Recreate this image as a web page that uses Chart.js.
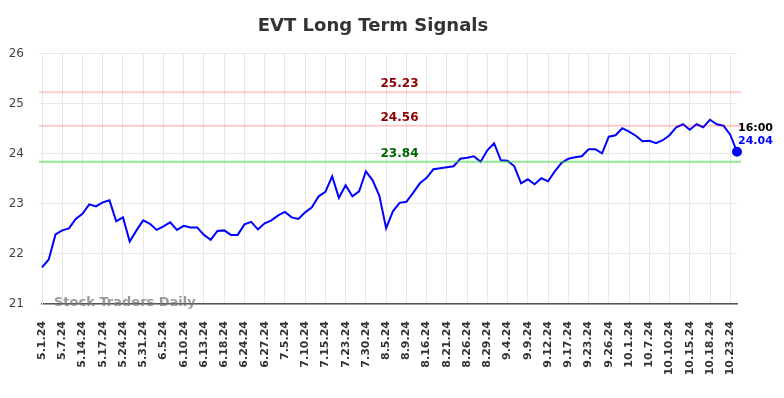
<!DOCTYPE html>
<html>
<head>
<meta charset="utf-8">
<script src="https://cdn.jsdelivr.net/npm/chart.js@4"></script>
<style>
    html, body { margin: 0; padding: 0; background: #fff; }
    #wrap { width: 784px; height: 398px; }
</style>
</head>
<body>
<div id="wrap"><canvas id="signals-chart-canvas"></canvas></div>
<script>
const dates = [
    '5.1.24', '5.2.24', '5.3.24', '5.7.24', '5.8.24', '5.10.24', '5.14.24', '5.15.24',
    '5.16.24', '5.17.24', '5.20.24', '5.22.24', '5.24.24', '5.28.24', '5.29.24', '5.31.24',
    '6.3.24', '6.4.24', '6.5.24', '6.6.24', '6.7.24', '6.10.24', '6.11.24', '6.12.24',
    '6.13.24', '6.14.24', '6.17.24', '6.18.24', '6.20.24', '6.21.24', '6.24.24', '6.25.24',
    '6.26.24', '6.27.24', '7.1.24', '7.3.24', '7.5.24', '7.8.24', '7.9.24', '7.10.24',
    '7.11.24', '7.12.24', '7.15.24', '7.17.24', '7.19.24', '7.23.24', '7.25.24', '7.26.24',
    '7.30.24', '8.1.24', '8.2.24', '8.5.24', '8.6.24', '8.7.24', '8.9.24', '8.13.24',
    '8.14.24', '8.16.24', '8.19.24', '8.20.24', '8.21.24', '8.22.24', '8.23.24', '8.26.24',
    '8.27.24', '8.28.24', '8.29.24', '8.30.24', '9.3.24', '9.4.24', '9.5.24', '9.6.24',
    '9.9.24', '9.10.24', '9.11.24', '9.12.24', '9.13.24', '9.16.24', '9.17.24', '9.19.24',
    '9.20.24', '9.23.24', '9.24.24', '9.25.24', '9.26.24', '9.27.24', '9.30.24', '10.1.24',
    '10.3.24', '10.4.24', '10.7.24', '10.8.24', '10.9.24', '10.10.24', '10.11.24', '10.14.24',
    '10.15.24', '10.16.24', '10.17.24', '10.18.24', '10.21.24', '10.22.24', '10.23.24', '10.24.24',
];

const prices = [
    21.73, 21.89, 22.39, 22.47, 22.51, 22.70, 22.80, 22.99,
    22.95, 23.03, 23.07, 22.65, 22.73, 22.25, 22.47, 22.67,
    22.60, 22.48, 22.55, 22.63, 22.48, 22.56, 22.53, 22.53,
    22.38, 22.28, 22.46, 22.47, 22.38, 22.38, 22.59, 22.64,
    22.49, 22.61, 22.67, 22.77, 22.84, 22.73, 22.70, 22.83,
    22.93, 23.15, 23.24, 23.55, 23.12, 23.37, 23.15, 23.25,
    23.65, 23.47, 23.16, 22.51, 22.85, 23.02, 23.04, 23.22,
    23.41, 23.52, 23.69, 23.71, 23.73, 23.75, 23.90, 23.92,
    23.95, 23.84, 24.07, 24.21, 23.87, 23.86, 23.75, 23.41,
    23.49, 23.39, 23.51, 23.45, 23.65, 23.82, 23.90, 23.93,
    23.95, 24.09, 24.09, 24.01, 24.34, 24.37, 24.51, 24.44,
    24.36, 24.25, 24.26, 24.21, 24.27, 24.37, 24.53, 24.59,
    24.48, 24.59, 24.53, 24.68, 24.59, 24.56, 24.38, 24.04,
];

const signalLevels = [25.23, 24.56, 23.84];
const signalKinds = ['sell', 'sell', 'buy'];
const lastTime = '16:00';

Chart.defaults.font.family = "'DejaVu Sans', sans-serif";

const signalColors = {
    sell: {line: 'rgba(255, 0, 0, 0.2)', text: '#8b0000'},
    buy: {line: 'rgba(60, 210, 60, 0.55)', text: '#006400'},
};

// threshold lines, their labels, the watermark and the last price note
const signalLines = {
    id: 'signalLines',
    afterDatasetsDraw: function(chart) {
        'use strict';
        const ctx = chart.ctx;
        const area = chart.chartArea;
        const y = chart.scales.y;
        ctx.save();
        signalLevels.forEach(function(level, i) {
            const c = signalColors[signalKinds[i]];
            const py = y.getPixelForValue(level);
            ctx.strokeStyle = c.line;
            ctx.lineWidth = 2;
            ctx.beginPath();
            ctx.moveTo(area.left - 3, py);
            ctx.lineTo(area.right + 4, py);
            ctx.stroke();
            ctx.fillStyle = c.text;
            ctx.font = "bold 12px 'DejaVu Sans'";
            ctx.textAlign = 'center';
            ctx.textBaseline = 'middle';
            ctx.fillText(level.toFixed(2), (area.left + area.right) / 2 + 10, py - 8);
        });

        ctx.fillStyle = 'rgba(120, 120, 120, 0.75)';
        ctx.font = "bold 13px 'DejaVu Sans'";
        ctx.textAlign = 'left';
        ctx.textBaseline = 'middle';
        ctx.fillText('Stock Traders Daily', area.left + 12, area.bottom - 1);

        const meta = chart.getDatasetMeta(0);
        const last = meta.data[meta.data.length - 1];
        ctx.font = "bold 11px 'DejaVu Sans'";
        ctx.fillStyle = '#000';
        ctx.fillText(lastTime, last.x + 1, last.y - 24);
        ctx.fillStyle = '#0000ff';
        ctx.fillText(prices[prices.length - 1].toFixed(2), last.x + 1, last.y - 11);
        ctx.restore();
    },
};

const ctx = document.querySelector('#signals-chart-canvas').getContext('2d');
const chart = new Chart(ctx, {
    type: 'line',
    data: {
        labels: dates,
        datasets: [{
            data: prices,
            borderColor: '#0000ff',
            backgroundColor: '#0000ff',
            borderWidth: 2,
            tension: 0,
            pointRadius: c => (c.dataIndex === prices.length - 1 ? 4 : 0),
            pointHoverRadius: 0,
        }],
    },
    options: {
        animation: false,
        responsive: true,
        maintainAspectRatio: false,
        layout: {
            padding: {left: 9, right: 47, top: 0, bottom: 0},
        },
        scales: {
            x: {
                afterFit: function(scale) {
                    scale.height = 94;
                    scale.paddingLeft = 0;
                    scale.paddingRight = 0;
                },
                grid: {
                    color: '#e8e8e8',
                    drawTicks: false,
                },
                border: {
                    color: '#555',
                    width: 1.5,
                },
                ticks: {
                    autoSkip: true,
                    maxTicksLimit: 35,
                    minRotation: 90,
                    maxRotation: 90,
                    padding: 17,
                    color: '#333',
                    font: {size: 11, weight: 'bold'},
                },
            },
            y: {
                min: 21,
                max: 26,
                afterFit: function(scale) {
                    scale.width = 33;
                },
                grid: {
                    color: '#e8e8e8',
                    tickLength: 3,
                },
                border: {
                    color: '#e8e8e8',
                },
                ticks: {
                    stepSize: 1,
                    padding: 15,
                    color: '#444',
                    font: {size: 12},
                },
            },
        },
        plugins: {
            legend: {
                display: false,
            },
            tooltip: {
                enabled: false,
            },
            title: {
                display: true,
                text: 'EVT Long Term Signals',
                color: '#333',
                font: {size: 18, weight: 'bold'},
                padding: {top: 16, bottom: 16},
            },
        },
    },
    plugins: [signalLines],
});
</script>
</body>
</html>
